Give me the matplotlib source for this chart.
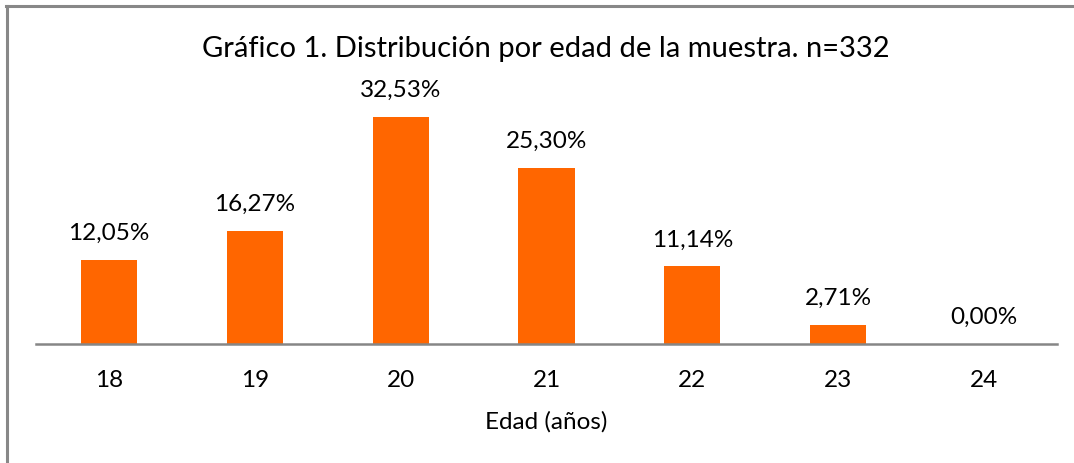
import matplotlib.pyplot as plt
from matplotlib.lines import Line2D

plt.rcParams['font.family'] = ['Lato', 'DejaVu Sans']

edades = ['18', '19', '20', '21', '22', '23', '24']
porcentajes = [12.05, 16.27, 32.53, 25.30, 11.14, 2.71, 0.00]
etiquetas = ['12,05%', '16,27%', '32,53%', '25,30%', '11,14%', '2,71%', '0,00%']

fig = plt.figure(figsize=(10.74, 4.63), dpi=100)
ax = fig.add_axes([36 / 1074, 119 / 463, 1021 / 1074, 244 / 463])

x = range(len(edades))
barras = ax.bar(x, porcentajes, width=0.385, color='#FF6600')
for b, t in zip(barras, etiquetas):
    ax.annotate(t, (b.get_x() + b.get_width() / 2, b.get_height()),
                xytext=(0, 11.5), textcoords='offset points',
                ha='center', va='bottom', fontsize=17.5, color='black')

ax.set_xlim(-0.5, len(edades) - 0.5)
ax.set_ylim(0, 35)
ax.set_xticks(list(x))
ax.set_xticklabels(edades, fontsize=17.5)
ax.tick_params(axis='x', length=0, pad=19)
ax.set_yticks([])
for s in ['top', 'right', 'left']:
    ax.spines[s].set_visible(False)
ax.spines['bottom'].set_color('#868686')
ax.spines['bottom'].set_linewidth(1.8)
ax.set_xlabel('Edad (años)', fontsize=17.5, labelpad=14)

fig.text(0.508, 0.895, 'Gráfico 1. Distribución por edad de la muestra. n=332',
         ha='center', va='center', fontsize=21)

# marco gris (solo arriba e izquierda, el resto queda recortado)
fig.lines.append(Line2D([7 / 1074, 7 / 1074], [0, 457 / 463],
                        transform=fig.transFigure, color='#888888', lw=2.2))
fig.lines.append(Line2D([6 / 1074, 1], [457 / 463, 457 / 463],
                        transform=fig.transFigure, color='#888888', lw=2.2))

fig.savefig('out.png', dpi=100)
